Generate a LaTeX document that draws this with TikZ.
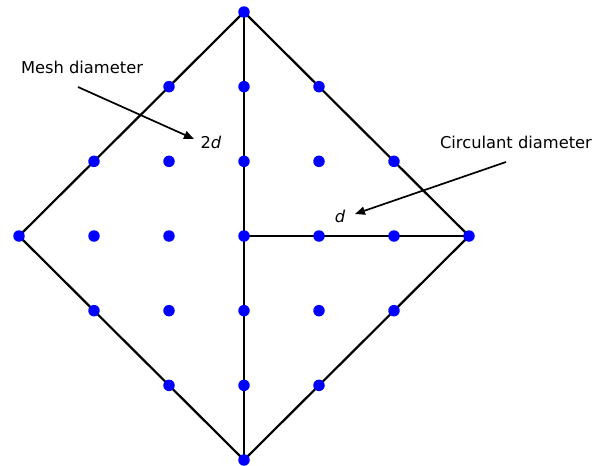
\documentclass[tikz,border=0pt]{standalone}
\usepackage{fontspec}
\setmainfont{DejaVu Sans}
\usetikzlibrary{arrows.meta}
\begin{document}
\begin{tikzpicture}[x=1pt,y=-1pt,
  edge/.style={line width=2.2pt,black,line cap=round},
  dot/.style={circle,fill=blue,inner sep=0pt,minimum size=11.5pt},
  lbl/.style={font=\fontsize{16.3}{18}\selectfont,inner sep=0pt},
  pointer/.style={line width=1.7pt,-{Triangle[length=10pt,width=8pt]}}]
\useasboundingbox (0,0) rectangle (595,466);
% grid coordinates
\foreach \i in {0,...,6} {
  \foreach \j in {0,...,6} {
    \coordinate (p\i\j) at ({19+75*\i},{12+74.67*\j});
  }
}
\draw[edge] (p30) -- (p03) -- (p36) -- (p63) -- cycle;
\draw[edge] (p30) -- (p36);
\draw[edge] (p33) -- (p63);
% dots
\foreach \i/\j in {3/0,
  2/1,3/1,4/1,
  1/2,2/2,3/2,4/2,5/2,
  0/3,1/3,2/3,3/3,4/3,5/3,6/3,
  1/4,2/4,3/4,4/4,5/4,
  2/5,3/5,4/5,
  3/6} {
  \node[dot] (d\i\j) at (p\i\j) {};
}
\node[lbl] (mesh) at (82,67) {Mesh diameter};
\node[lbl] (twod) at (211,142) {2\textit{d}};
\coordinate (ms) at (78,87);
\coordinate (me) at (194,139);
\draw[pointer] (ms) -- (me);
\node[lbl] (circ) at (516,142) {Circulant diameter};
\node[lbl] (oned) at (340,216) {\textit{d}};
\coordinate (cs) at (506,162);
\coordinate (ce) at (355,214);
\draw[pointer] (cs) -- (ce);
\end{tikzpicture}
\end{document}
